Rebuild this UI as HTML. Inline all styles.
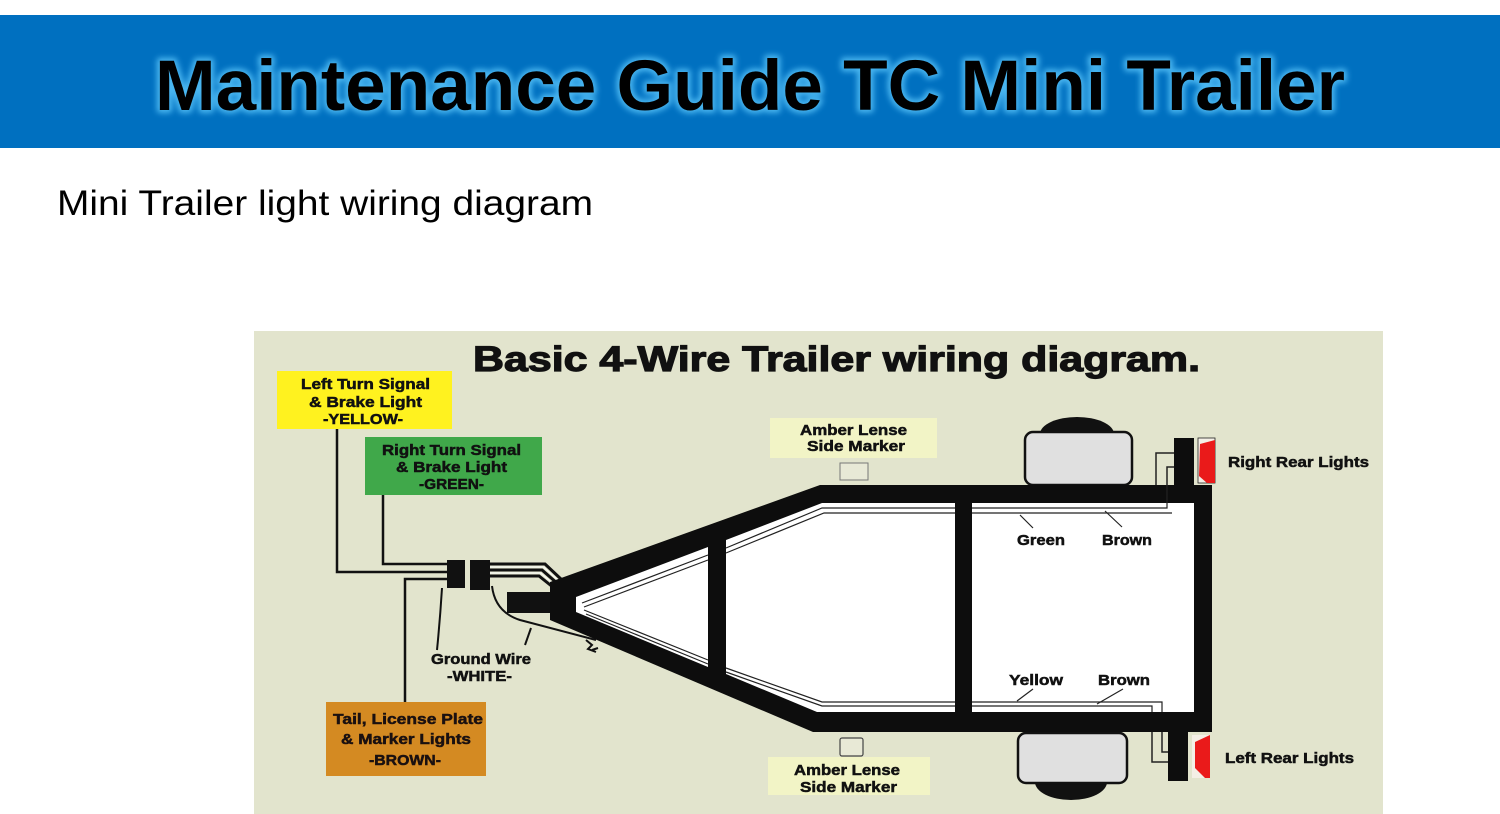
<!DOCTYPE html>
<html>
<head>
<meta charset="utf-8">
<style>
html,body{margin:0;padding:0;background:#fff;}
svg{display:block;}
text{font-family:"Liberation Sans",Arial,sans-serif;}
</style>
</head>
<body>
<svg width="1500" height="814" viewBox="0 0 1500 814" xmlns="http://www.w3.org/2000/svg">
  <defs>
    <filter id="glow" x="-5%" y="-30%" width="110%" height="160%">
      <feGaussianBlur stdDeviation="3"/>
    </filter>
  </defs>
  <rect x="0" y="0" width="1500" height="814" fill="#ffffff"/>
  <!-- banner -->
  <rect x="0" y="15" width="1500" height="133" fill="#0070c0"/>
  <text x="155" y="110" font-size="71" font-weight="bold" textLength="1190" lengthAdjust="spacingAndGlyphs" fill="#49b6f0" stroke="#49b6f0" stroke-width="6" stroke-linejoin="round" filter="url(#glow)">Maintenance Guide TC Mini Trailer</text>
  <text x="155" y="110" font-size="71" font-weight="bold" textLength="1190" lengthAdjust="spacingAndGlyphs" fill="#000">Maintenance Guide TC Mini Trailer</text>

  <!-- subtitle -->
  <text x="57" y="215" font-size="35" textLength="536" lengthAdjust="spacingAndGlyphs" fill="#000">Mini Trailer light wiring diagram</text>

  <!-- diagram background -->
  <rect x="254" y="331" width="1129" height="483" fill="#e2e4cd"/>

  <text x="473" y="371" font-size="35" font-weight="bold" textLength="727" lengthAdjust="spacingAndGlyphs" fill="#111" stroke="#111" stroke-width="1.2">Basic 4-Wire Trailer wiring diagram.</text>

  <!-- label boxes -->
  <rect x="277" y="371" width="175" height="58" fill="#fff21f"/>
  <g font-size="15" font-weight="bold" fill="#111" stroke="#111" stroke-width="0.5">
    <text x="301" y="389" textLength="129" lengthAdjust="spacingAndGlyphs">Left Turn Signal</text>
    <text x="309" y="407" textLength="113" lengthAdjust="spacingAndGlyphs">&amp; Brake Light</text>
    <text x="323" y="424" textLength="80" lengthAdjust="spacingAndGlyphs">-YELLOW-</text>
  </g>

  <rect x="365" y="437" width="177" height="58" fill="#40a84a"/>
  <g font-size="15" font-weight="bold" fill="#111" stroke="#111" stroke-width="0.5">
    <text x="382" y="455" textLength="139" lengthAdjust="spacingAndGlyphs">Right Turn Signal</text>
    <text x="396" y="472" textLength="111" lengthAdjust="spacingAndGlyphs">&amp; Brake Light</text>
    <text x="419" y="489" textLength="65" lengthAdjust="spacingAndGlyphs">-GREEN-</text>
  </g>

  <rect x="326" y="702" width="160" height="74" fill="#d48a22"/>
  <g font-size="15" font-weight="bold" fill="#1a1010" stroke="#1a1010" stroke-width="0.5">
    <text x="333" y="724" textLength="150" lengthAdjust="spacingAndGlyphs">Tail, License Plate</text>
    <text x="341" y="744" textLength="130" lengthAdjust="spacingAndGlyphs">&amp; Marker Lights</text>
    <text x="369" y="765" textLength="72" lengthAdjust="spacingAndGlyphs">-BROWN-</text>
  </g>

  <g font-size="15" font-weight="bold" fill="#111" stroke="#111" stroke-width="0.5">
    <text x="431" y="664" textLength="100" lengthAdjust="spacingAndGlyphs">Ground Wire</text>
    <text x="447" y="681" textLength="65" lengthAdjust="spacingAndGlyphs">-WHITE-</text>
  </g>

  <!-- amber boxes -->
  <rect x="770" y="418" width="167" height="40" fill="#f2f4c6"/>
  <g font-size="15" font-weight="bold" fill="#111" stroke="#111" stroke-width="0.5">
    <text x="800" y="435" textLength="107" lengthAdjust="spacingAndGlyphs">Amber Lense</text>
    <text x="807" y="451" textLength="98" lengthAdjust="spacingAndGlyphs">Side Marker</text>
  </g>
  <rect x="840" y="463" width="28" height="17" fill="#e8e9d6" stroke="#777" stroke-width="1"/>

  <rect x="768" y="757" width="162" height="38" fill="#f2f4c6"/>
  <g font-size="15" font-weight="bold" fill="#111" stroke="#111" stroke-width="0.5">
    <text x="794" y="775" textLength="106" lengthAdjust="spacingAndGlyphs">Amber Lense</text>
    <text x="800" y="792" textLength="97" lengthAdjust="spacingAndGlyphs">Side Marker</text>
  </g>
  <rect x="840" y="738" width="23" height="18" rx="2" fill="#e8e9d6" stroke="#444" stroke-width="1.2"/>

  <!-- left wires -->
  <g fill="none" stroke="#111" stroke-width="2.5">
    <path d="M337 429 L337 572 L448 572"/>
    <path d="M383 495 L383 564 L448 564"/>
    <path d="M405 702 L405 579 L448 579"/>
  </g>
  <g fill="none" stroke="#111" stroke-width="3">
    <path d="M490 564 L545 564 L562 580"/>
    <path d="M490 570 L542 570 L558 584"/>
    <path d="M490 576 L539 576 L554 588"/>
  </g>
  <g fill="none" stroke="#fff" stroke-width="1">
    <path d="M490 567 L543.5 567 L560 582"/>
    <path d="M490 573 L540.5 573 L556 586"/>
  </g>
  <g fill="none" stroke="#111" stroke-width="2">
    <path d="M492 586 Q495 612 520 620 L596 640"/>
    <path d="M531 628 L525 645"/>
    <path d="M442 588 Q440 620 437 650"/>
    <path d="M586 640 l6 5 l-4 4 l8 3 M592 650 l6 -2"/>
  </g>
  <!-- connectors -->
  <rect x="447" y="560" width="18" height="28" fill="#111"/>
  <rect x="470" y="560" width="20" height="30" fill="#111"/>
  <rect x="507" y="592" width="48" height="21" fill="#111"/>

  <!-- wheels -->
  <ellipse cx="1077" cy="434" rx="37" ry="17" fill="#111"/>
  <rect x="1025" y="432" width="107" height="53" rx="8" fill="#e0e0e0" stroke="#111" stroke-width="2.5"/>
  <ellipse cx="1071" cy="782" rx="36" ry="18" fill="#111"/>
  <rect x="1018" y="733" width="109" height="50" rx="8" fill="#e0e0e0" stroke="#111" stroke-width="2.5"/>

  <!-- frame -->
  <polygon points="550,582 820,485 1212,485 1212,732 813,732 550,620" fill="#0d0d0d"/>
  <polygon points="576,597 708,547 708,667 576,612" fill="#ffffff"/>
  <polygon points="726,540 822,503 955,503 955,712 817,712 726,674" fill="#ffffff"/>
  <polygon points="972,503 1194,503 1194,712 972,712" fill="#ffffff"/>

  <!-- inner wires -->
  <g fill="none" stroke="#222" stroke-width="1.2">
    <path d="M582 603 L708 555 M726 548 L822 508 L955 508 M972 508 L1167 508 L1167 486"/>
    <path d="M584 607 L708 560 M726 553 L824 513 L955 513 M972 513 L1172 513"/>
    <path d="M584 610 L708 660 M726 668 L822 702 L955 702 M972 702 L1162 702 L1162 712"/>
    <path d="M586 614 L708 664 M726 672 L822 706 L955 706 M972 706 L1152 706 L1152 712"/>
    <path d="M1020 515 L1033 528 M1105 511 L1122 527 M1017 701 L1033 689 M1097 704 L1123 689"/>
  </g>
  <g fill="none" stroke="#222" stroke-width="1.5">
    <path d="M1156 485 L1156 453 L1175 453"/>
    <path d="M1167 486 L1167 467 L1175 467"/>
    <path d="M1152 732 L1152 762 L1170 762"/>
    <path d="M1162 732 L1162 752 L1170 752"/>
  </g>

  <!-- light posts -->
  <rect x="1174" y="438" width="20" height="60" fill="#0d0d0d"/>
  <rect x="1168" y="725" width="20" height="56" fill="#0d0d0d"/>
  <rect x="1198" y="438" width="17" height="45" fill="#f4efe6" stroke="#222" stroke-width="0.8"/>
  <polygon points="1200,444 1215,440 1215,483 1207,483 1199,476" fill="#ea1a1a"/>
  <rect x="1192" y="735" width="18" height="43" fill="#f4efe6"/>
  <polygon points="1195,742 1210,735 1210,778 1205,778 1195,768" fill="#ea1a1a"/>

  <!-- small labels -->
  <g font-size="15" font-weight="bold" fill="#111" stroke="#111" stroke-width="0.5">
    <text x="1017" y="545" textLength="48" lengthAdjust="spacingAndGlyphs">Green</text>
    <text x="1102" y="545" textLength="50" lengthAdjust="spacingAndGlyphs">Brown</text>
    <text x="1009" y="685" textLength="54" lengthAdjust="spacingAndGlyphs">Yellow</text>
    <text x="1098" y="685" textLength="52" lengthAdjust="spacingAndGlyphs">Brown</text>
    <text x="1228" y="467" textLength="141" lengthAdjust="spacingAndGlyphs">Right Rear Lights</text>
    <text x="1225" y="763" textLength="129" lengthAdjust="spacingAndGlyphs">Left Rear Lights</text>
  </g>
</svg>
</body>
</html>
